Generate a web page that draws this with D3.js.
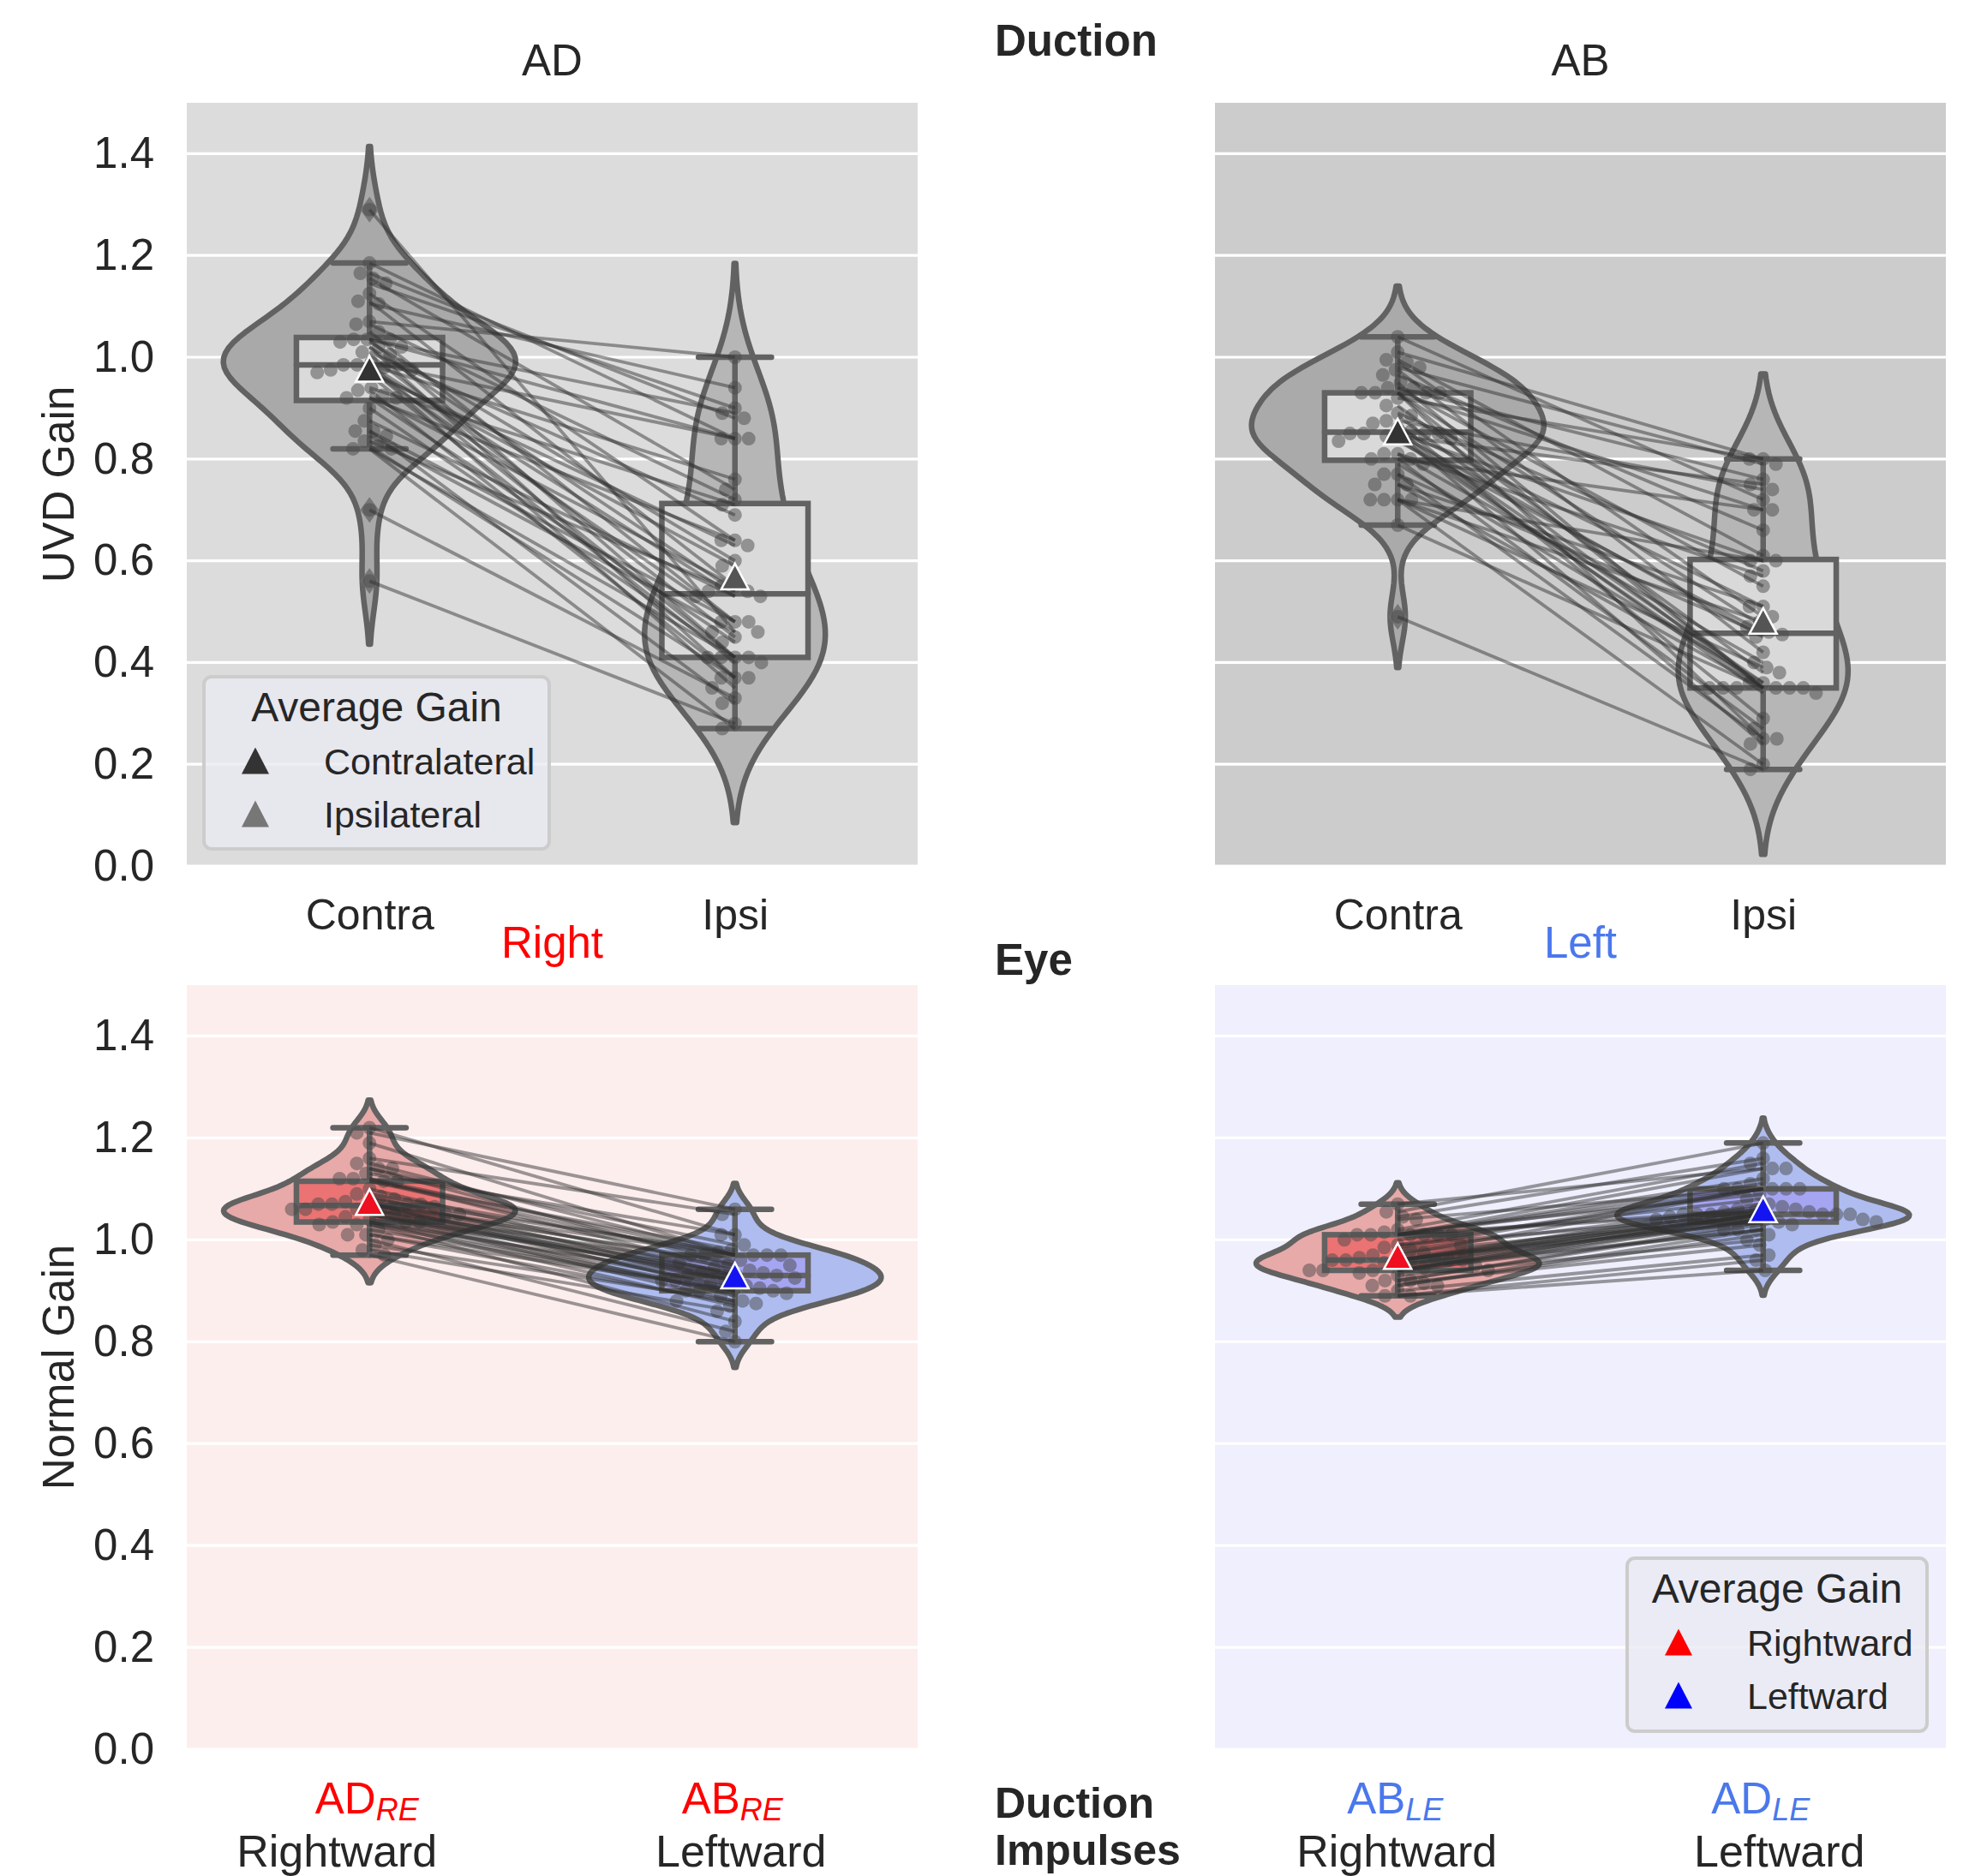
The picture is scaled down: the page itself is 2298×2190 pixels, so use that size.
<!DOCTYPE html>
<html>
<head>
<meta charset="utf-8">
<title>Duction and eye gains</title>
<script src="https://cdn.jsdelivr.net/npm/d3@7"></script>
<style>
  body { margin: 0; background: #ffffff; }
  text { font-family: "Liberation Sans", Arial, Helvetica, sans-serif; fill: #262626; }
</style>
</head>
<body>
<div id="chart"></div>
<script>
// ---- data: one value per subject, paired arrays share the subject order ----
const adContra = [1.29, 1.185, 1.165, 1.155, 1.145, 1.125, 1.11, 1.105, 1.07, 1.065, 1.05, 1.035, 1.035, 1.03, 1.035,
  1.02, 1.02, 1.01, 1.005, 0.99, 0.985, 0.985, 0.985, 0.98, 0.975, 0.975, 0.97, 0.965, 0.94, 0.935, 0.925, 0.92,
  0.92, 0.90, 0.875, 0.855, 0.855, 0.845, 0.835, 0.825, 0.82, 0.82, 0.70, 0.56];
const adIpsi = [0.46, 0.84, 0.88, 0.74, 0.90, 0.64, 0.55, 0.94, 1.00, 0.72, 0.48, 0.89, 0.41, 0.60, 0.84, 0.37,
  0.54, 0.69, 0.45, 0.84, 0.53, 0.41, 0.76, 0.35, 0.59, 0.48, 0.63, 0.40, 0.71, 0.37, 0.55, 0.44, 0.64, 0.41,
  0.53, 0.32, 0.48, 0.46, 0.54, 0.37, 0.41, 0.27, 0.33, 0.28];
const abContra = [1.04, 1.01, 0.995, 0.99, 0.98, 0.975, 0.965, 0.95, 0.94, 0.94, 0.93, 0.93, 0.93, 0.93, 0.92,
  0.905, 0.89, 0.885, 0.875, 0.87, 0.86, 0.855, 0.85, 0.85, 0.85, 0.85, 0.845, 0.84, 0.835, 0.81, 0.81, 0.80,
  0.80, 0.79, 0.77, 0.77, 0.75, 0.75, 0.72, 0.72, 0.72, 0.72, 0.67, 0.49];
const abIpsi = [0.72, 0.80, 0.61, 0.49, 0.79, 0.42, 0.66, 0.35, 0.76, 0.55, 0.35, 0.70, 0.25, 0.47, 0.80, 0.38,
  0.58, 0.35, 0.74, 0.29, 0.51, 0.36, 0.60, 0.34, 0.45, 0.24, 0.75, 0.35, 0.46, 0.40, 0.57, 0.27, 0.70, 0.36,
  0.455, 0.25, 0.51, 0.35, 0.60, 0.39, 0.48, 0.20, 0.35, 0.19];

const adRE = [1.22, 1.21, 1.19, 1.16, 1.15, 1.14, 1.14, 1.13, 1.12, 1.12, 1.115, 1.115, 1.10, 1.09, 1.085, 1.08,
  1.075, 1.07, 1.07, 1.07, 1.07, 1.07, 1.065, 1.06, 1.06, 1.06, 1.055, 1.05, 1.05, 1.05, 1.045, 1.04, 1.035,
  1.035, 1.035, 1.03, 1.03, 1.02, 1.01, 1.01, 1.00, 0.99, 0.98, 0.97];
const abRE = [1.01, 1.06, 0.97, 1.05, 0.97, 0.99, 0.95, 1.01, 0.97, 0.94, 0.98, 0.96, 0.93, 0.97, 0.92, 0.975,
  0.95, 0.915, 0.97, 0.935, 0.90, 0.955, 0.93, 0.905, 0.945, 0.92, 0.89, 0.935, 0.925, 0.88, 0.93, 0.91, 0.87,
  0.92, 0.90, 0.895, 0.84, 0.90, 0.90, 0.875, 0.82, 0.88, 0.86, 0.80];
const abLE = [1.07, 1.055, 1.045, 1.04, 1.02, 1.015, 1.01, 1.01, 1.01, 1.01, 1.01, 1.01, 1.00, 0.99, 0.99, 0.985,
  0.98, 0.975, 0.97, 0.965, 0.96, 0.96, 0.96, 0.96, 0.96, 0.96, 0.955, 0.95, 0.95, 0.945, 0.94, 0.94, 0.94, 0.94,
  0.935, 0.93, 0.92, 0.92, 0.915, 0.91, 0.91, 0.90, 0.89, 0.89];
const adLE = [1.14, 1.19, 1.16, 1.10, 1.15, 1.09, 1.12, 1.06, 1.14, 1.10, 1.055, 1.11, 1.08, 1.10, 1.05, 1.10,
  1.065, 1.045, 1.10, 1.06, 1.05, 1.04, 1.07, 1.06, 1.05, 1.035, 1.055, 1.05, 1.04, 1.02, 1.05, 1.05, 1.02, 1.04,
  1.04, 1.00, 1.035, 1.03, 0.99, 1.02, 1.01, 0.97, 0.96, 0.94];

const yTicks = [0, 0.2, 0.4, 0.6, 0.8, 1.0, 1.2, 1.4];
const topCats = ["Contra", "Ipsi"];
const rightEyeMain = ["AD", "AB"];
const leftEyeMain = ["AB", "AD"];
const directionCats = ["Rightward", "Leftward"];

// ---- figure ----
const W = 2298, H = 2190;
const RED = "#ff0000", BLUE = "#0000ff", LEFTBLUE = "#4a78ec";
const EDGE = "#626262";
const LW = 6.5;

const svg = d3.select("#chart").append("svg")
  .attr("width", W).attr("height", H)
  .style("background", "#ffffff");

const cols = { left: [218, 1071], right: [1418, 2271] };
const rows = { top: [120, 1011], bottom: [1150, 2042] };

const panels = [
  { col: cols.left, row: rows.top, bg: "#dcdcdc", data: [adContra, adIpsi],
    violin: ["#a9a9a9", "#b6b6b6"], box: ["#dadada", "#dadada"], mean: ["#333333", "#555555"], yAxis: true },
  { col: cols.right, row: rows.top, bg: "#cccccc", data: [abContra, abIpsi],
    violin: ["#aaaaaa", "#b6b6b6"], box: ["#d9d9d9", "#d9d9d9"], mean: ["#333333", "#555555"], yAxis: false },
  { col: cols.left, row: rows.bottom, bg: "#fdeeee", data: [adRE, abRE],
    violin: ["#e8a9a9", "#aebcf0"], box: ["#eb7373", "#a5a5f2"], mean: ["#ee1020", "#1414f2"], yAxis: true },
  { col: cols.right, row: rows.bottom, bg: "#efeffd", data: [abLE, adLE],
    violin: ["#e8a9a9", "#aebcf0"], box: ["#eb7373", "#a5a5f2"], mean: ["#ee1020", "#1414f2"], yAxis: false }
];

// gaussian kde, scott bandwidth, cut = 2 (seaborn default)
function kde(values) {
  const n = values.length;
  const bw = d3.deviation(values) * Math.pow(n, -1 / 5);
  const lo = d3.min(values) - 2 * bw, hi = d3.max(values) + 2 * bw;
  const k = 1 / (n * bw * Math.sqrt(2 * Math.PI));
  return d3.range(100).map(i => {
    const g = lo + (hi - lo) * i / 99;
    return [g, k * d3.sum(values, v => Math.exp(-0.5 * ((g - v) / bw) ** 2))];
  });
}

function boxStats(values) {
  const s = values.slice().sort(d3.ascending);
  const q1 = d3.quantileSorted(s, 0.25), med = d3.quantileSorted(s, 0.5), q3 = d3.quantileSorted(s, 0.75);
  const iqr = q3 - q1;
  const lo = d3.min(s.filter(v => v >= q1 - 1.5 * iqr));
  const hi = d3.max(s.filter(v => v <= q3 + 1.5 * iqr));
  return { q1, med, q3, lo, hi, fliers: s.filter(v => v < lo || v > hi) };
}

// simple beeswarm: points sorted by value, pushed sideways to the nearest free slot
function swarm(ys, r) {
  const order = d3.range(ys.length).sort((a, b) => d3.ascending(ys[a], ys[b]));
  const placed = [], xs = [];
  const d2 = 4 * r * r;
  order.forEach(i => {
    const yy = ys[i];
    const near = placed.filter(p => Math.abs(p.y - yy) < 2 * r);
    const cands = [0];
    near.forEach(p => {
      const dx = Math.sqrt(d2 - (p.y - yy) ** 2);
      cands.push(p.x - dx, p.x + dx);
    });
    cands.sort((a, b) => Math.abs(a) - Math.abs(b) || a - b);
    const c = cands.find(c => near.every(p => (p.x - c) ** 2 + (p.y - yy) ** 2 >= d2 - 0.01));
    xs[i] = c;
    placed.push({ x: c, y: yy });
  });
  return xs;
}

const tri = (w, h) => `M0,${-h / 2}L${w / 2},${h / 2}L${-w / 2},${h / 2}Z`;

function drawPanel(p) {
  const g = svg.append("g");
  const x = d3.scalePoint().domain([0, 1]).range(p.col).padding(0.5);
  const y = d3.scaleLinear().domain([0, 1.5]).range([p.row[1], p.row[0]]);
  p.x = x; p.y = y;

  g.append("rect")
    .attr("x", p.col[0]).attr("y", p.row[0])
    .attr("width", p.col[1] - p.col[0]).attr("height", p.row[1] - p.row[0])
    .attr("fill", p.bg);

  g.append("g").selectAll("line").data(yTicks).join("line")
    .attr("x1", p.col[0]).attr("x2", p.col[1])
    .attr("y1", d => y(d)).attr("y2", d => y(d))
    .attr("stroke", "#ffffff").attr("stroke-width", 3.2);

  // violins (area scaling: widest peak gets width 0.8)
  const dens = p.data.map(kde);
  const maxD = d3.max(dens, d => d3.max(d, e => e[1]));
  const half = 0.4 * x.step();
  dens.forEach((d, i) => {
    const area = d3.area()
      .y(e => y(e[0]))
      .x0(e => x(i) - e[1] / maxD * half)
      .x1(e => x(i) + e[1] / maxD * half);
    g.append("path").attr("d", area(d))
      .attr("fill", p.violin[i])
      .attr("stroke", EDGE).attr("stroke-width", LW)
      .attr("stroke-linejoin", "round");
  });

  // boxplots
  const bw = 0.4 * x.step(), cw = 0.2 * x.step();
  p.data.forEach((vals, i) => {
    const s = boxStats(vals), cx = x(i);
    const bg = g.append("g").attr("stroke", EDGE).attr("stroke-width", LW).attr("stroke-linecap", "round");
    bg.append("line").attr("x1", cx).attr("x2", cx).attr("y1", y(s.q3)).attr("y2", y(s.hi));
    bg.append("line").attr("x1", cx).attr("x2", cx).attr("y1", y(s.q1)).attr("y2", y(s.lo));
    bg.append("line").attr("x1", cx - cw / 2).attr("x2", cx + cw / 2).attr("y1", y(s.hi)).attr("y2", y(s.hi));
    bg.append("line").attr("x1", cx - cw / 2).attr("x2", cx + cw / 2).attr("y1", y(s.lo)).attr("y2", y(s.lo));
    bg.append("rect").attr("x", cx - bw / 2).attr("width", bw)
      .attr("y", y(s.q3)).attr("height", y(s.q1) - y(s.q3))
      .attr("fill", p.box[i]);
    bg.append("line").attr("x1", cx - bw / 2).attr("x2", cx + bw / 2).attr("y1", y(s.med)).attr("y2", y(s.med));
    g.append("g").selectAll("path").data(s.fliers).join("path")
      .attr("transform", v => `translate(${cx},${y(v)})`)
      .attr("d", "M0,-15L11,0L0,15L-11,0Z")
      .attr("fill", "#6e6e6e").attr("opacity", 0.85);
  });

  // swarm points
  const r = 8;
  p.data.forEach((vals, i) => {
    const py = vals.map(v => y(v));
    const px = swarm(py, r);
    g.append("g").selectAll("circle").data(vals).join("circle")
      .attr("cx", (v, j) => x(i) + px[j]).attr("cy", (v, j) => py[j])
      .attr("r", r).attr("fill", "#4a4a4a").attr("fill-opacity", 0.5);
  });

  // paired lines
  g.append("g").selectAll("line").data(p.data[0]).join("line")
    .attr("x1", x(0)).attr("x2", x(1))
    .attr("y1", v => y(v)).attr("y2", (v, j) => y(p.data[1][j]))
    .attr("stroke", "#303030").attr("stroke-opacity", 0.48).attr("stroke-width", 3.8);

  // means
  g.append("g").selectAll("path").data(p.data).join("path")
    .attr("transform", (vals, i) => `translate(${x(i)},${y(d3.mean(vals))})`)
    .attr("d", tri(32, 30))
    .attr("fill", (vals, i) => p.mean[i])
    .attr("stroke", "#ffffff").attr("stroke-width", 2.5).attr("stroke-linejoin", "miter");

  if (p.yAxis) {
    const ax = g.append("g").attr("transform", `translate(${p.col[0]},0)`)
      .call(d3.axisLeft(y).tickValues(yTicks).tickFormat(d3.format(".1f")).tickSize(0).tickPadding(38));
    ax.select(".domain").remove();
    ax.selectAll("text").attr("font-size", 51).attr("fill", "#262626")
      .style("font-family", '"Liberation Sans", Arial, sans-serif');
  }
  return g;
}

panels.forEach(drawPanel);

// ---- top x axes ----
[panels[0], panels[1]].forEach(p => {
  const ax = svg.append("g").attr("transform", `translate(0,${p.row[1]})`)
    .call(d3.axisBottom(p.x).tickFormat(i => topCats[i]).tickSize(0).tickPadding(38));
  ax.select(".domain").remove();
  ax.selectAll("text").attr("font-size", 50).attr("fill", "#262626")
    .style("font-family", '"Liberation Sans", Arial, sans-serif');
});

// ---- bottom x tick labels (two lines, subscript) ----
function eyeTicks(p, mains, sub, color, dirShift) {
  [0, 1].forEach(i => {
    const t = svg.append("text")
      .attr("x", p.x(i) - 3).attr("y", p.row[1] + 75)
      .attr("text-anchor", "middle").attr("font-size", 51)
      .style("fill", color);
    t.append("tspan").text(mains[i]);
    t.append("tspan").attr("dy", 8).attr("font-size", 36).attr("font-style", "italic").text(sub);
    svg.append("text")
      .attr("x", p.x(i) + dirShift[i]).attr("y", p.row[1] + 137)
      .attr("text-anchor", "middle").attr("font-size", 52)
      .text(directionCats[i]);
  });
}
eyeTicks(panels[2], rightEyeMain, "RE", RED, [-38, 7]);
eyeTicks(panels[3], leftEyeMain, "LE", LEFTBLUE, [-1, 19]);

// ---- titles and side labels ----
function label(txt, x, y, opts = {}) {
  return svg.append("text").attr("x", x).attr("y", y)
    .attr("text-anchor", opts.anchor || "middle")
    .attr("font-size", opts.size || 51)
    .attr("font-weight", opts.bold ? "bold" : "normal")
    .style("fill", opts.color || "#262626")
    .text(txt);
}
const midL = (cols.left[0] + cols.left[1]) / 2, midR = (cols.right[0] + cols.right[1]) / 2;
label("AD", midL, 88);
label("AB", midR, 88);
label("Duction", 1161, 65, { anchor: "start", bold: true });
label("Right", midL, 1118, { color: RED });
label("Left", midR, 1118, { color: LEFTBLUE });
label("Eye", 1161, 1138, { anchor: "start", bold: true });
label("Duction", 1161, 2122, { anchor: "start", bold: true, size: 50 });
label("Impulses", 1161, 2177, { anchor: "start", bold: true, size: 50 });

svg.append("text").attr("transform", `translate(86,${(rows.top[0] + rows.top[1]) / 2}) rotate(-90)`)
  .attr("text-anchor", "middle").attr("font-size", 51).text("UVD Gain");
svg.append("text").attr("transform", `translate(86,${(rows.bottom[0] + rows.bottom[1]) / 2}) rotate(-90)`)
  .attr("text-anchor", "middle").attr("font-size", 51).text("Normal Gain");

// ---- legends ----
function legend(x0, y0, w, h, items) {
  const g = svg.append("g").attr("transform", `translate(${x0},${y0})`);
  g.append("rect").attr("width", w).attr("height", h).attr("rx", 9)
    .attr("fill", "#eaeaf2").attr("fill-opacity", 0.8)
    .attr("stroke", "#cccccc").attr("stroke-width", 4);
  g.append("text").attr("x", w / 2).attr("y", 52).attr("text-anchor", "middle")
    .attr("font-size", 48).text("Average Gain");
  items.forEach((it, i) => {
    g.append("path").attr("transform", `translate(60,${98 + i * 62})`)
      .attr("d", tri(32, 31)).attr("fill", it.color);
    g.append("text").attr("x", 140).attr("y", 114 + i * 62)
      .attr("font-size", 43).text(it.name);
  });
}
legend(238, 790, 403, 201, [{ name: "Contralateral", color: "#333333" }, { name: "Ipsilateral", color: "#777777" }]);
legend(1899, 1819, 350, 202, [{ name: "Rightward", color: RED }, { name: "Leftward", color: BLUE }]);
</script>
</body>
</html>
